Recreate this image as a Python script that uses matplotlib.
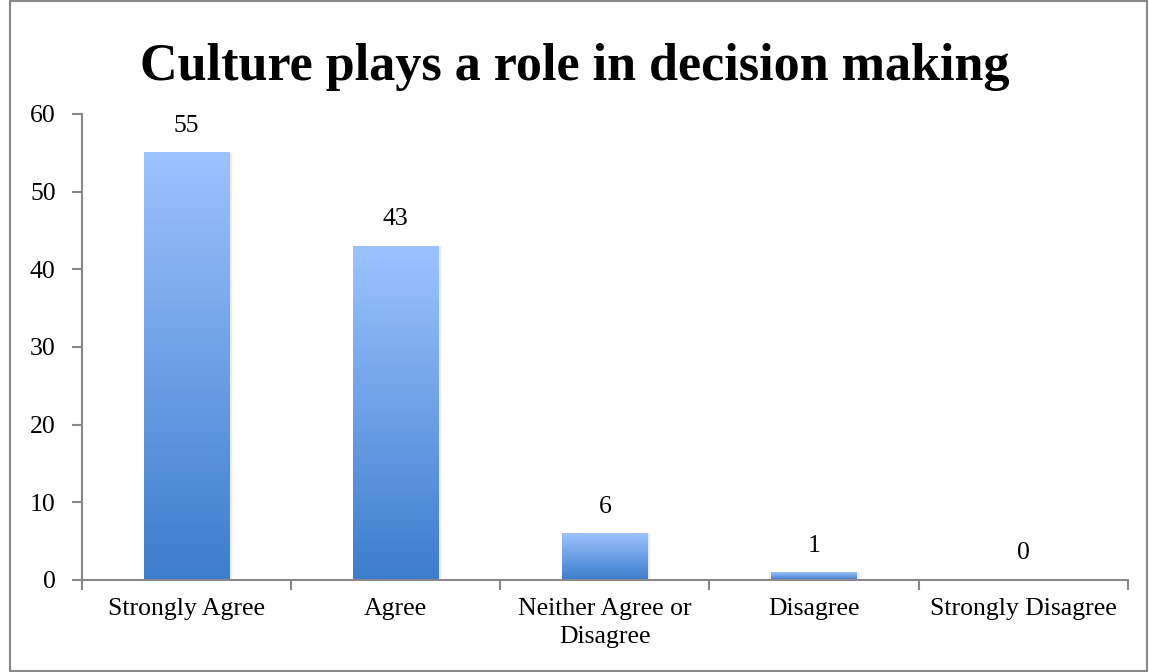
import numpy as np
import matplotlib.pyplot as plt
from matplotlib.patches import Rectangle

categories = ["Strongly Agree", "Agree", "Neither Agree or\nDisagree", "Disagree", "Strongly Disagree"]
values = [55, 43, 6, 1, 0]
yticks = [0, 10, 20, 30, 40, 50, 60]

plt.rcParams['font.family'] = ['Liberation Serif', 'DejaVu Serif']

fig = plt.figure(figsize=(11.49, 6.72), dpi=100)
ax = fig.add_axes([0.0714, 0.137, 0.910, 0.6935])

# vertical gradient for each bar: light on top, darker at the base
top = np.array([157, 195, 255]) / 255
bottom = np.array([60, 125, 205]) / 255
t = np.linspace(0, 1, 256)[:, None]
grad = (top * (1 - t) + bottom * t)[:, None, :]

width = 0.41
x = np.arange(len(categories))
for xi, v in zip(x, values):
    if v > 0:
        # soft shadow on the right
        ax.add_patch(Rectangle((xi - width / 2 + 0.008, 0), width, v, color='#ececec', zorder=1))
        ax.imshow(grad, extent=(xi - width / 2, xi + width / 2, 0, v),
                  aspect='auto', zorder=2, interpolation='bilinear')
    ax.text(xi, v + 2.0, str(v), ha='center', va='bottom', fontsize=18.5)

ax.set_xlim(-0.5, len(categories) - 0.5)
ax.set_ylim(0, 60)
ax.set_yticks(yticks)
ax.set_xticks(x)
ax.set_xticklabels(categories, fontsize=18.5, linespacing=1.35)
ax.set_xticks(np.arange(-0.5, len(categories)), minor=True)
ax.tick_params(axis='x', which='major', length=0, pad=13)
ax.tick_params(axis='x', which='minor', length=7, color='#888888', width=1.5)
ax.tick_params(axis='y', length=7, color='#888888', width=1.5, labelsize=18.5, pad=12)

for side in ['top', 'right']:
    ax.spines[side].set_visible(False)
for side in ['left', 'bottom']:
    ax.spines[side].set_color('#888888')
    ax.spines[side].set_linewidth(1.5)

fig.text(0.5, 0.9, "Culture plays a role in decision making", ha='center', va='center',
         fontsize=37.5, fontweight='bold')

fig.add_artist(Rectangle((0.009, 0.001), 0.989, 0.997, transform=fig.transFigure,
                         fill=False, edgecolor='#888888', linewidth=1.5))

fig.savefig('out.png', dpi=100)
